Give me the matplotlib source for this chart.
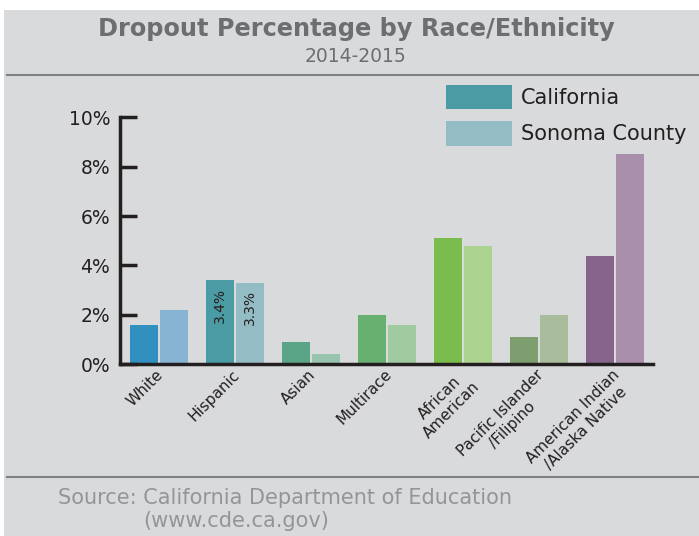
import matplotlib.pyplot as plt
import numpy as np
from matplotlib.patches import Rectangle, Patch
from matplotlib.lines import Line2D

categories = ["White", "Hispanic", "Asian", "Multirace", "African\nAmerican",
              "Pacific Islander\n/Filipino", "American Indian\n/Alaska Native"]
california = [1.6, 3.4, 0.9, 2.0, 5.1, 1.1, 4.4]
sonoma = [2.2, 3.3, 0.4, 1.6, 4.8, 2.0, 8.5]

ca_colors = ["#3190C0", "#4A9BA3", "#5AA487", "#68B070", "#7ABD4C", "#7F9E6F", "#87648C"]
so_colors = ["#88B4D4", "#94BCC4", "#98C3AD", "#A0CBA0", "#ADD390", "#A9BC9B", "#AA8FAD"]

bg = "#D9DADC"
dark = "#231F20"
gray_text = "#6D6E71"

fig = plt.figure(figsize=(6.99, 5.36), dpi=100)
fig.patch.set_facecolor("white")
fig.add_artist(Rectangle((4 / 699, 0), 1, 1 - 10 / 536, transform=fig.transFigure,
                         facecolor=bg, edgecolor="none", zorder=-10))

# separators
for yy in [75, 477]:
    fig.add_artist(Line2D([7 / 699, 1], [1 - yy / 536, 1 - yy / 536],
                          transform=fig.transFigure, color="#7F8083", lw=1.5))

fig.text(356 / 699, 1 - 29 / 536, "Dropout Percentage by Race/Ethnicity",
         ha="center", va="center", fontsize=17.3, fontweight="bold", color=gray_text)
fig.text(356 / 699, 1 - 56 / 536, "2014-2015", ha="center", va="center",
         fontsize=13.5, color=gray_text)

ax = fig.add_axes([120 / 699, 1 - 364 / 536, (653 - 120) / 699, (364 - 117) / 536])
ax.set_facecolor(bg)

x = np.arange(len(categories))
w = 28 / 76
off = 15 / 76
ax.bar(x - off, california, width=w, color=ca_colors)
ax.bar(x + off, sonoma, width=w, color=so_colors)

# labels inside Hispanic bars
ax.text(1 - off, california[1] - 0.3, f"{california[1]}%", rotation=90, ha="center",
        va="top", fontsize=10, color=dark)
ax.text(1 + off, sonoma[1] - 0.3, f"{sonoma[1]}%", rotation=90, ha="center",
        va="top", fontsize=10, color=dark)

ax.set_xlim(-39 / 76, 494 / 76)
ax.set_ylim(0, 10.02)
ax.set_yticks([0, 2, 4, 6, 8, 10])
ax.set_yticklabels([f"{v}%" for v in [0, 2, 4, 6, 8, 10]])
ax.tick_params(axis="y", direction="in", length=12, width=2.5, color=dark,
               labelsize=13.5, labelcolor=dark, pad=7)
ax.set_xticks(x - 0.04)
ax.set_xticklabels(categories, rotation=45, ha="right", va="top",
                   rotation_mode="anchor", multialignment="center")
ax.tick_params(axis="x", length=0, labelsize=11, labelcolor=dark, pad=2)

for s in ["top", "right"]:
    ax.spines[s].set_visible(False)
for s in ["left", "bottom"]:
    ax.spines[s].set_linewidth(2.5)
    ax.spines[s].set_color(dark)

handles = [Patch(facecolor=ca_colors[1], label="California"),
           Patch(facecolor=so_colors[1], label="Sonoma County")]
fig.legend(handles=handles, loc="upper left", bbox_to_anchor=(427 / 699, 1 - 66 / 536),
           frameon=False, fontsize=15, handlelength=3.2, handleheight=1.45,
           labelspacing=0.55, handletextpad=0.43, labelcolor=dark)

fig.text(58 / 699, 1 - 498 / 536, "Source: California Department of Education",
         ha="left", va="center", fontsize=15, color="#939598")
fig.text(143 / 699, 1 - 521 / 536, "(www.cde.ca.gov)",
         ha="left", va="center", fontsize=15, color="#939598")

fig.savefig("out.png", dpi=100)
